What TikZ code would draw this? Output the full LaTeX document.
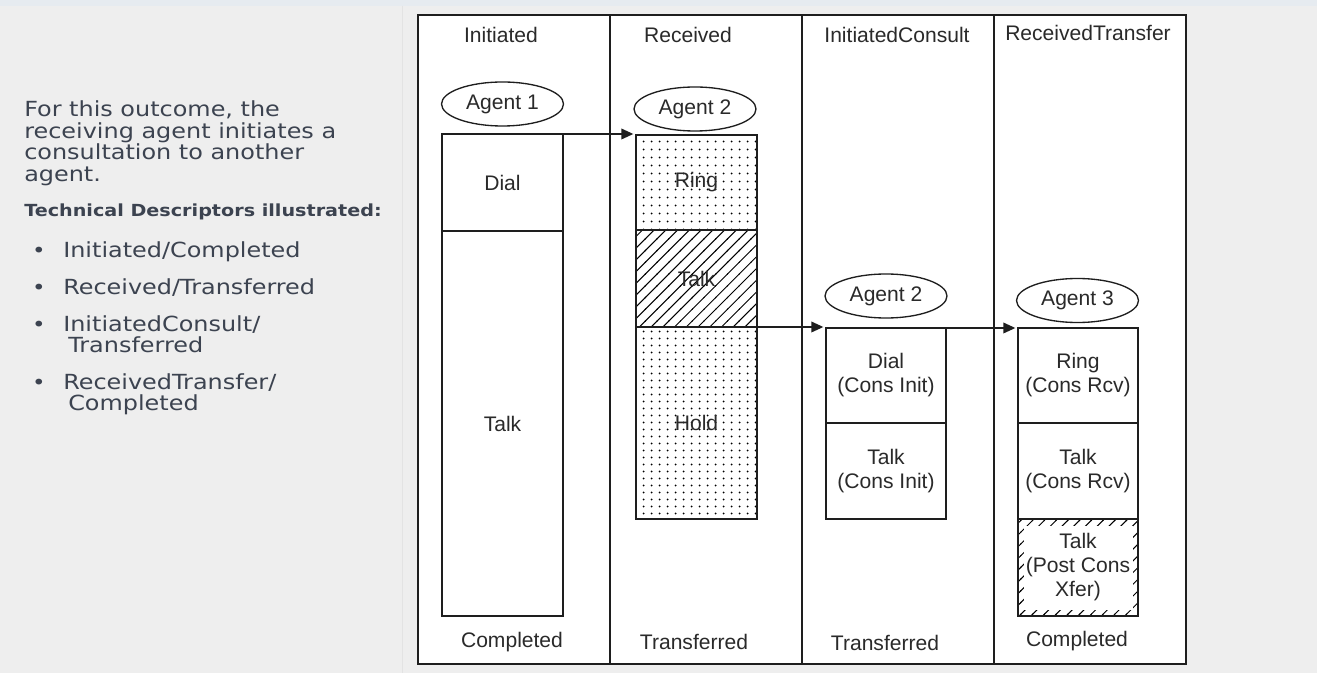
\documentclass[tikz,border=0pt]{standalone}
\usepackage{fontspec}
\setmainfont{Liberation Sans}
\newfontfamily\diagfont{Liberation Sans}
\newfontfamily\docfont[FakeStretch=1.15]{DejaVu Sans}
\usetikzlibrary{shapes.geometric,arrows.meta,patterns.meta}
\definecolor{bg}{HTML}{EEEEEE}
\definecolor{topstrip}{HTML}{E6EBF0}
\definecolor{doctext}{HTML}{3C4350}
\definecolor{diagtext}{HTML}{2A2A2A}
\definecolor{seam}{HTML}{E3E3E3}
\definecolor{linec}{HTML}{1E1E1E}
\pgfdeclarepattern{name=sdots, type=uncolored,
  bottom left={\pgfpoint{0pt}{0pt}}, top right={\pgfpoint{6pt}{5.6pt}},
  tile size={\pgfpoint{6pt}{5.6pt}},
  code={\pgfpathcircle{\pgfpoint{3pt}{2.8pt}}{0.85pt}\pgfusepath{fill}}}
\pgfdeclarepattern{name=shatch, type=uncolored,
  bottom left={\pgfpoint{-0.5pt}{-0.5pt}}, top right={\pgfpoint{9.3pt}{9.3pt}},
  tile size={\pgfpoint{8.8pt}{8.8pt}},
  code={\pgfsetlinewidth{0.75pt}\pgfpathmoveto{\pgfpoint{-0.5pt}{-0.5pt}}\pgfpathlineto{\pgfpoint{9.3pt}{9.3pt}}\pgfusepath{stroke}}}
\begin{document}
\begin{tikzpicture}[x=0.75pt,y=-0.75pt,
  doc/.style={font=\docfont\fontsize{15.6}{18}\selectfont, text=doctext, inner sep=0pt, anchor=base west},
  docbold/.style={font=\docfont\bfseries\fontsize{12.5}{14}\selectfont, text=doctext, inner sep=0pt, anchor=base west},
  bul/.style={font=\docfont\fontsize{15}{18}\selectfont, text=doctext, inner sep=0pt, anchor=base},
  lbl/.style={font=\diagfont\fontsize{15.8}{18}\selectfont, text=diagtext, inner sep=0pt},
  column/.style={draw=linec, fill=white, line width=1.5pt, rectangle, minimum width=144pt, minimum height=486.75pt, inner sep=0pt, outer sep=0pt},
  cell/.style={draw=linec, line width=1.1pt, rectangle, inner sep=1pt, outer sep=0pt, align=center,
    font=\diagfont\fontsize{15.8}{18}\selectfont, text=diagtext},
  agent/.style={draw=linec, line width=1pt, ellipse, minimum width=91.5pt, minimum height=33pt, inner sep=0pt,
    font=\diagfont\fontsize{15.8}{18}\selectfont, text=diagtext},
  arrow/.style={draw=linec, line width=1.1pt, -{Triangle[length=9pt,width=8pt]}, shorten >=2pt}
]
\useasboundingbox (0,0) rectangle (1317,673);
\fill[bg] (0,0) rectangle (1317,673);
\fill[topstrip] (0,0) rectangle (1317,6);
\draw[seam, line width=0.75pt] (402,6) -- (402,673);

% left description
\node[doc] (p1) at (24,117) {For this outcome, the};
\node[doc] (p2) at (24,138.5) {receiving agent initiates a};
\node[doc] (p3) at (24,160) {consultation to another};
\node[doc] (p4) at (24,181.5) {agent.};
\node[docbold] (h1) at (24,216.5) {Technical Descriptors illustrated:};
\node[bul] (d1) at (39,258) {•};
\node[doc] (t1) at (63,258) {Initiated/Completed};
\node[bul] (d2) at (39,295) {•};
\node[doc] (t2) at (63,295) {Received/Transferred};
\node[bul] (d3) at (39,331.5) {•};
\node[doc] (t3) at (63,331.5) {InitiatedConsult/};
\node[doc] (t3b) at (68,353) {Transferred};
\node[bul] (d4) at (39,390) {•};
\node[doc] (t4) at (63,390) {ReceivedTransfer/};
\node[doc] (t4b) at (68,411) {Completed};

% columns
\node[column] (col1) at (514,339.5) {};
\node[column] (col2) at (706,339.5) {};
\node[column] (col3) at (898,339.5) {};
\node[column] (col4) at (1090,339.5) {};

% headers
\node[lbl] (hd1) at (501,35) {Initiated};
\node[lbl] (hd2) at (688,35) {Received};
\node[lbl] (hd3) at (897,35) {InitiatedConsult};
\node[lbl] (hd4) at (1088,32.5) {ReceivedTransfer};

% footers
\node[lbl] (ft1) at (512,642) {Completed};
\node[lbl] (ft2) at (694,642) {Transferred};
\node[lbl] (ft3) at (885,643) {Transferred};
\node[lbl] (ft4) at (1077,641) {Completed};

% agents
\node[agent] (ag1) at (502.5,104) {Agent 1};
\node[agent] (ag2) at (695,109) {Agent 2};
\node[agent] (ag2c) at (886,296) {Agent 2};
\node[agent] (ag3) at (1077.5,300.5) {Agent 3};

% Initiated column
\node[cell, minimum width=90.75pt, minimum height=72.75pt] (dial) at (502.5,182.5) {Dial};
\node[cell, minimum width=90.75pt, minimum height=288.75pt] (talk1) at (502.5,423.5) {Talk};

% Received column
\node[cell, pattern=sdots, minimum width=90.75pt, minimum height=71.25pt] (ring) at (696.5,182.5) {Ring};
\node[cell, pattern=shatch, minimum width=90.75pt, minimum height=72.75pt] (rtalk) at (696.5,278.5) {Talk};
\node[cell, pattern=sdots, minimum width=90.75pt, minimum height=144pt] (hold) at (696.5,423) {Hold};

% InitiatedConsult column
\node[cell, minimum width=90pt, minimum height=71.25pt] (cdial) at (886,375.5) {Dial\\(Cons Init)};
\node[cell, minimum width=90pt, minimum height=72pt] (ctalk) at (886,471) {Talk\\(Cons Init)};

% ReceivedTransfer column
\node[cell, minimum width=90pt, minimum height=71.25pt] (rring) at (1078,375.5) {Ring\\(Cons Rcv)};
\node[cell, minimum width=90pt, minimum height=72pt] (rtalk2) at (1078,471) {Talk\\(Cons Rcv)};
\node[cell, pattern=shatch, minimum width=90pt, minimum height=72.75pt,
  path picture={\fill[white] ([shift={(4.5pt,-5pt)}]path picture bounding box.north west) rectangle ([shift={(-4pt,4.5pt)}]path picture bounding box.south east);}]
  (rpost) at (1078,567.5) {Talk\\(Post Cons\\Xfer)};

% connectors
\draw[arrow] (dial.north east) -- (dial.north east -| ring.west);
\draw[arrow] (hold.north east) -- (hold.north east -| cdial.west);
\draw[arrow] (cdial.north east) -- (cdial.north east -| rring.west);
\end{tikzpicture}
\end{document}
